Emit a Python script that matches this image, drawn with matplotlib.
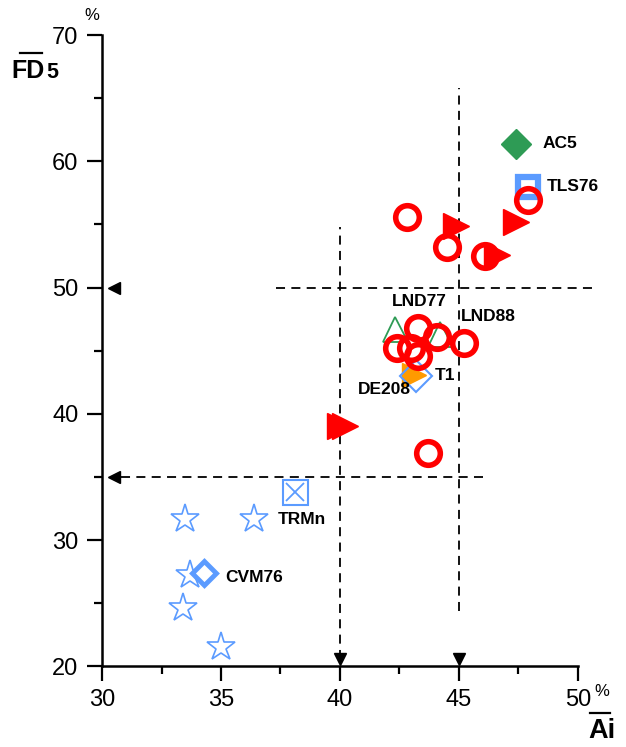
import matplotlib
matplotlib.use("Agg")
import matplotlib.pyplot as plt
from matplotlib.lines import Line2D

plt.rcParams['font.family'] = ['Liberation Sans', 'DejaVu Sans']

# ---- data: mean Ai (%) vs mean FD5 (%) ----
circle_ai = [42.8, 44.5, 46.1, 47.9, 43.3, 44.1, 42.4, 43.0, 43.3, 45.2, 43.7]
circle_fd = [55.6, 53.2, 52.5, 56.9, 46.8, 46.1, 45.2, 45.2, 44.6, 45.6, 36.9]

tri_ai = [44.9, 47.4, 46.6, 40.0, 40.2]
tri_fd = [54.9, 55.2, 52.6, 39.0, 39.0]

star_ai = [33.5, 36.4, 33.7, 33.4, 35.0]
star_fd = [31.7, 31.7, 27.2, 24.6, 21.5]

lnd_ai = [42.3, 44.2]
lnd_fd = [46.7, 46.3]

ac5 = (47.4, 61.4)
tls76 = (47.9, 58.0)
t1 = (43.2, 43.0)
de208 = (43.1, 43.1)
trmn = (38.1, 33.8)
cvm76 = (34.3, 27.4)

ai_limits = [40, 45]
fd_limits = [35, 50]

RED = '#ff0000'
BLUE = '#5b9bff'
GREEN = '#2e9b55'
ORANGE = '#ff9a00'

W, H = 626, 747
fig = plt.figure(figsize=(W / 100, H / 100), dpi=100)
ax = fig.add_axes([0.163, 0.108, 0.760, 0.845])


def fx(px):
    return px / W


def fy(py):
    return 1 - py / H


dash = dict(color='black', lw=1.3, ls=(0, (5, 3.5)), zorder=1)
# threshold guide lines
ax.plot([37.3, 50.6], [fd_limits[1]] * 2, clip_on=False, **dash)
ax.plot([30.8, 46.0], [fd_limits[0]] * 2, **dash)
ax.plot([ai_limits[1]] * 2, [24.4, 65.8], **dash)
ax.plot([ai_limits[0]] * 2, [20.6, 54.8], **dash)

# threshold arrows on the axes
ax.plot([30.5, 30.5], fd_limits, ls='none', marker='<', ms=9, color='black', clip_on=False, zorder=5)
ax.plot(ai_limits, [20.6, 20.6], ls='none', marker='v', ms=9, color='black', clip_on=False, zorder=5)

# stars
ax.plot(star_ai, star_fd, ls='none', marker='*', ms=21, mfc='white', mec=BLUE, mew=1.2, zorder=3)
# labelled single points
ax.plot(*trmn, marker='s', ms=18, mfc='white', mec=BLUE, mew=1.5, zorder=3)
ax.plot(*trmn, marker='x', ms=13, mec=BLUE, mew=1.3, zorder=4)
ax.plot(*cvm76, marker='D', ms=12, mfc='white', mec=BLUE, mew=3.5, zorder=4)
ax.plot(*ac5, marker='D', ms=15, color=GREEN, mec=GREEN, zorder=3)
ax.plot(*tls76, marker='s', ms=15, mfc='white', mec=BLUE, mew=4.5, zorder=3)
ax.plot(lnd_ai, lnd_fd, ls='none', marker='^', ms=18, mfc='white', mec=GREEN, mew=1.3, zorder=3)
ax.plot(*de208, marker='>', ms=17, color=ORANGE, zorder=3)
ax.plot(*t1, marker='D', ms=16, mfc='none', mec=BLUE, mew=1.5, zorder=4)

# red groups
ax.plot(tri_ai, tri_fd, ls='none', marker='>', ms=19, color=RED, zorder=5)
ax.plot(circle_ai, circle_fd, ls='none', marker='o', ms=17, mfc='none', mec=RED, mew=4, zorder=6)

lab = dict(fontsize=12.5, fontweight='bold', va='center', zorder=7)
ax.text(48.5, 61.4, 'AC5', **lab)
ax.text(48.7, 58.0, 'TLS76', **lab)
ax.text(42.2, 48.9, 'LND77', **lab)
ax.text(45.1, 47.7, 'LND88', **lab)
ax.text(44.0, 43.05, 'T1', **lab)
ax.text(43.0, 41.95, 'DE208', ha='right', **lab)
ax.text(37.4, 31.6, 'TRMn', **lab)
ax.text(35.2, 27.0, 'CVM76', **lab)

ax.set_xlim(30, 50)
ax.set_ylim(20, 70)
ax.set_xticks([30, 35, 40, 45, 50])
ax.set_yticks([20, 30, 40, 50, 60, 70])
ax.set_xticks([32.5, 37.5, 42.5, 47.5], minor=True)
ax.set_yticks([25, 35, 45, 55, 65], minor=True)
for s in ['top', 'right']:
    ax.spines[s].set_visible(False)
for s in ['left', 'bottom']:
    ax.spines[s].set_linewidth(1.8)
ax.tick_params(which='major', direction='out', length=11, width=1.6, labelsize=17, pad=5)
ax.tick_params(which='minor', direction='out', length=5.5, width=1.6)
ax.tick_params(axis='y', which='major', pad=6)

# axis titles with overbars and unit signs
fig.text(fx(92), fy(15), '%', fontsize=12, ha='center', va='center')
fig.text(fx(11), fy(78), 'FD', fontsize=18, fontweight='bold', ha='left', va='baseline')
fig.text(fx(46), fy(78), '5', fontsize=15.5, fontweight='bold', ha='left', va='baseline')
fig.add_artist(Line2D([fx(20), fx(42)], [fy(53), fy(53)], color='black', lw=1.6))

fig.text(fx(602), fy(692), '%', fontsize=12, ha='center', va='center')
fig.text(fx(588), fy(738), 'Ai', fontsize=19.5, fontweight='bold', ha='left', va='baseline')
fig.add_artist(Line2D([fx(590), fx(610)], [fy(713), fy(713)], color='black', lw=1.6))

fig.savefig('out.png', dpi=100)
